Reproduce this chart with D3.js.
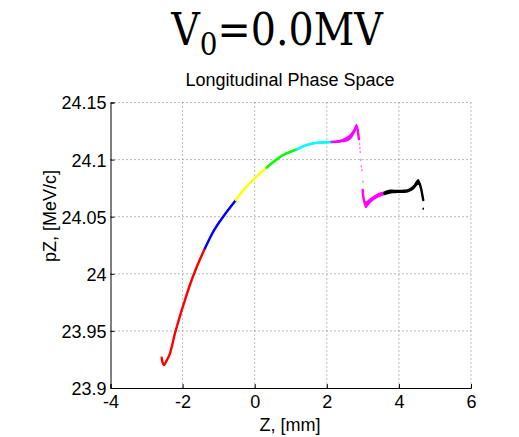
<!DOCTYPE html>
<html>
<head>
<meta charset="utf-8">
<script src="https://cdn.jsdelivr.net/npm/d3@7"></script>
<style>
body { margin: 0; background: #fff; }
</style>
</head>
<body>
<div id="chart"></div>
<script>
var width = 519;
var height = 437;

// bunch slices: z [mm], pz [MeV/c], half spread of pz
var redZ  = [-2.58, -2.56, -2.52, -2.45, -2.35, -2.211, -2.072, -1.933, -1.795, -1.656, -1.517, -1.379];
var redPz = [23.9265, 23.9228, 23.9200, 23.9235, 23.9304, 23.9479, 23.9632, 23.9772, 23.9904, 24.0022, 24.0127, 24.0223];
var redDp = [0.0005, 0.001, 0.001, 0.001, 0.001, 0.001, 0.001, 0.001, 0.001, 0.001, 0.001, 0.001];

var blueZ  = [-1.379, -1.13, -0.875, -0.52];
var bluePz = [24.0223, 24.038, 24.050, 24.0646];
var blueDp = [0.001, 0.001, 0.001, 0.001];

var yellowZ  = [-0.52, -0.27, 0.0, 0.33];
var yellowPz = [24.0646, 24.075, 24.0836, 24.093];
var yellowDp = [0.001, 0.001, 0.001, 0.001];

var greenZ  = [0.33, 0.56, 0.79, 1.165];
var greenPz = [24.093, 24.099, 24.104, 24.109];
var greenDp = [0.001, 0.001, 0.001, 0.001];

var cyanZ  = [1.165, 1.395, 1.625, 1.87, 2.135];
var cyanPz = [24.109, 24.1123, 24.1143, 24.115, 24.1154];
var cyanDp = [0.001, 0.001, 0.001, 0.001, 0.001];

var magentaZ  = [2.135, 2.365, 2.56, 2.67, 2.75, 2.80, 2.83, 2.86, 2.89];
var magentaPz = [24.1154, 24.1161, 24.118, 24.1207, 24.1245, 24.1278, 24.129, 24.125, 24.118];
var magentaDp = [0.0008, 0.0012, 0.0022, 0.0026, 0.0028, 0.0028, 0.0025, 0.003, 0.002];

var dropZ  = [2.905, 2.915, 2.925, 2.94, 2.955, 2.97, 3.0];
var dropPz = [24.1135, 24.110, 24.1065, 24.0995, 24.094, 24.0905, 24.0805];

var magenta2Z  = [2.995, 3.005, 3.03, 3.06, 3.09, 3.17, 3.29, 3.42, 3.59];
var magenta2Pz = [24.0734, 24.069, 24.0645, 24.061, 24.0605, 24.063, 24.0661, 24.0686, 24.0705];
var magenta2Dp = [0.0008, 0.001, 0.002, 0.003, 0.003, 0.0025, 0.002, 0.002, 0.0018];

var blackZ  = [3.59, 3.75, 4.03, 4.25, 4.40, 4.48, 4.54, 4.58, 4.62, 4.65, 4.675];
var blackPz = [24.0705, 24.072, 24.0722, 24.0728, 24.0755, 24.079, 24.0805, 24.0785, 24.074, 24.069, 24.0645];
var blackDp = [0.0018, 0.0018, 0.0015, 0.0015, 0.002, 0.0025, 0.0025, 0.0025, 0.002, 0.0015, 0.001];

var strayZ  = [4.675];
var strayPz = [24.0570];

var xTicks = [-4, -2, 0, 2, 4, 6];
var yTicks = [23.9, 23.95, 24, 24.05, 24.1, 24.15];

var segments = [
  {color: "#ff0000", z: redZ, pz: redPz, dp: redDp},
  {color: "#0000ff", z: blueZ, pz: bluePz, dp: blueDp},
  {color: "#ffff00", z: yellowZ, pz: yellowPz, dp: yellowDp},
  {color: "#00ff00", z: greenZ, pz: greenPz, dp: greenDp},
  {color: "#00ffff", z: cyanZ, pz: cyanPz, dp: cyanDp},
  {color: "#ff00ff", z: magentaZ, pz: magentaPz, dp: magentaDp},
  {color: "#ff00ff", z: magenta2Z, pz: magenta2Pz, dp: magenta2Dp},
  {color: "#000000", z: blackZ, pz: blackPz, dp: blackDp}
];

var plotLeft = 110.5, plotRight = 471, plotTop = 102.5, plotBottom = 388;

var x = d3.scaleLinear().domain([-4, 6]).range([plotLeft, plotRight]);
var y = d3.scaleLinear().domain([23.9, 24.15]).range([plotBottom, plotTop]);

var svg = d3.select("#chart")
  .append("svg")
  .attr("width", width)
  .attr("height", height)
  .style("font-family", "'Liberation Sans', Arial, sans-serif");

// dotted grid
svg.selectAll(".gx")
  .data(xTicks.slice(1))
  .enter().append("line")
  .attr("x1", d => x(d)).attr("x2", d => x(d))
  .attr("y1", plotTop).attr("y2", plotBottom)
  .attr("stroke", "#777").attr("stroke-dasharray", "1,3");

svg.selectAll(".gy")
  .data(yTicks.slice(1))
  .enter().append("line")
  .attr("x1", plotLeft).attr("x2", plotRight)
  .attr("y1", d => y(d)).attr("y2", d => y(d))
  .attr("stroke", "#777").attr("stroke-dasharray", "1,3");

// particles
function pts(s) {
  return s.z.map(function(z, i) { return {z: z, pz: s.pz[i], dp: s.dp[i]}; });
}

var band = d3.area()
  .x(d => x(d.z))
  .y0(d => y(d.pz - d.dp))
  .y1(d => y(d.pz + d.dp))
  .curve(d3.curveCatmullRom);

var core = d3.line()
  .x(d => x(d.z))
  .y(d => y(d.pz))
  .curve(d3.curveCatmullRom);

segments.forEach(function(s) {
  svg.append("path")
    .attr("d", band(pts(s)))
    .attr("fill", s.color);
  svg.append("path")
    .attr("d", core(pts(s)))
    .attr("fill", "none")
    .attr("stroke", s.color)
    .attr("stroke-width", 2.4)
    .attr("stroke-linecap", "round");
});

svg.selectAll(".drop")
  .data(dropZ)
  .enter().append("rect")
  .attr("x", d => x(d) - 0.6)
  .attr("y", (d, i) => y(dropPz[i]) - 1.5)
  .attr("width", 1.4).attr("height", 2.5)
  .attr("fill", "#ff80ff");

svg.selectAll(".stray")
  .data(strayZ)
  .enter().append("rect")
  .attr("x", d => x(d) - 0.7)
  .attr("y", (d, i) => y(strayPz[i]) - 1)
  .attr("width", 1.5).attr("height", 2)
  .attr("fill", "#000");

// axes, ticks inward
var xAxis = svg.append("g")
  .attr("transform", "translate(0," + plotBottom + ")")
  .call(d3.axisBottom(x).tickValues(xTicks).tickSize(-4).tickPadding(7).tickFormat(d => String(d)));
var yAxis = svg.append("g")
  .attr("transform", "translate(" + plotLeft + ",0)")
  .call(d3.axisLeft(y).tickValues(yTicks).tickSize(-4).tickPadding(4).tickFormat(d => String(+d.toFixed(2))));

[xAxis, yAxis].forEach(function(a) {
  a.select(".domain").attr("stroke", "#000").attr("stroke-width", 1);
  a.selectAll(".tick line").attr("stroke", "#000");
  a.selectAll("text")
    .attr("fill", "#000")
    .style("font-size", "18px")
    .style("font-family", "'Liberation Sans', Arial, sans-serif");
});
yAxis.selectAll(".tick text").attr("dy", "0.36em");
xAxis.selectAll(".tick text").attr("dy", "0.71em");

svg.append("text")
  .attr("x", 290).attr("y", 431)
  .attr("text-anchor", "middle")
  .style("font-size", "18px")
  .text("Z, [mm]");

svg.append("text")
  .attr("transform", "translate(56,216) rotate(-90)")
  .attr("text-anchor", "middle")
  .style("font-size", "18px")
  .text("pZ, [MeV/c]");

svg.append("text")
  .attr("x", 290).attr("y", 85.5)
  .attr("text-anchor", "middle")
  .style("font-size", "18px")
  .text("Longitudinal Phase Space");

var title = svg.append("text")
  .attr("x", 277).attr("y", 45)
  .attr("text-anchor", "middle")
  .style("font-family", "'DejaVu Serif', serif")
  .style("font-stretch", "condensed")
  .style("font-size", "44px");
title.append("tspan").text("V");
title.append("tspan").attr("dy", 10).style("font-size", "31px").text("0");
title.append("tspan").attr("dy", -10).text("=0.0MV");
</script>
</body>
</html>
